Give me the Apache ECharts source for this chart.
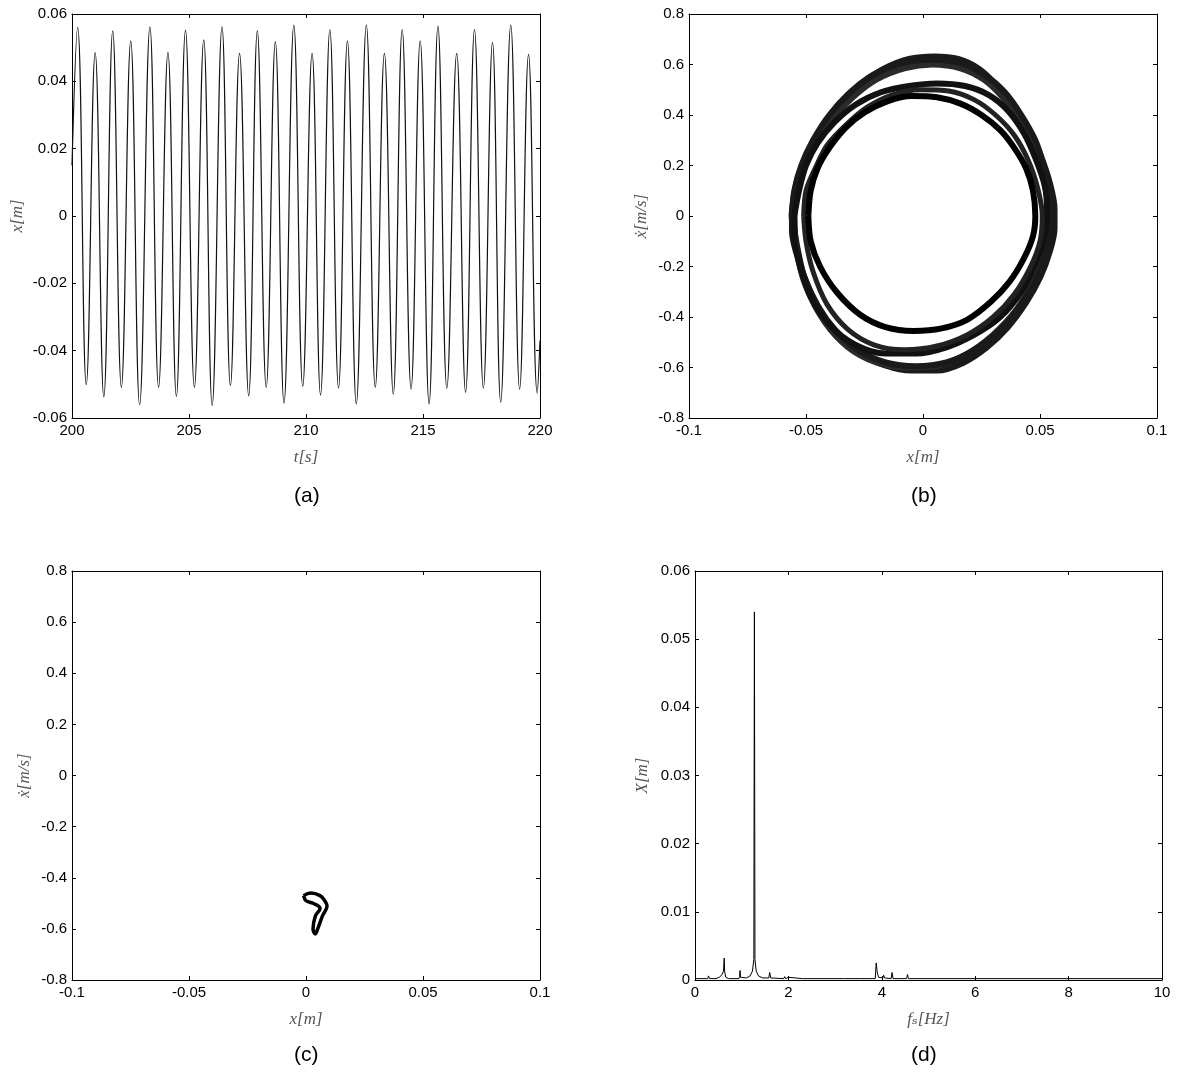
<!DOCTYPE html>
<html>
<head>
<meta charset="utf-8">
<script src="https://cdn.jsdelivr.net/npm/echarts@6/dist/echarts.min.js"></script>
<style>
html,body{margin:0;padding:0;background:#fff;}
#main{width:1177px;height:1086px;}
</style>
</head>
<body>
<div id="main"></div>
<script>
// (a) time response: peaks / troughs
var timeA = [200.0, 200.24, 200.61, 200.99, 201.36, 201.74, 202.11, 202.51, 202.89, 203.33, 203.70, 204.10, 204.46,
  204.85, 205.23, 205.63, 205.99, 206.41, 206.77, 207.16, 207.55, 207.92, 208.30, 208.69, 209.06, 209.48, 209.86,
  210.26, 210.62, 211.02, 211.39, 211.77, 212.15, 212.58, 212.96, 213.35, 213.73, 214.11, 214.49, 214.88, 215.26,
  215.64, 216.02, 216.44, 216.82, 217.20, 217.58, 217.97, 218.32, 218.75, 219.13, 219.51, 219.88, 220.0];
var dispA = [0.015, 0.0560, -0.0501, 0.0485, -0.0537, 0.0550, -0.0509, 0.0520, -0.0561, 0.0562, -0.0509, 0.0486, -0.0536,
  0.0552, -0.0509, 0.0523, -0.0563, 0.0562, -0.0504, 0.0483, -0.0534, 0.0550, -0.0509, 0.0518, -0.0556, 0.0567, -0.0506,
  0.0483, -0.0532, 0.0554, -0.0511, 0.0520, -0.0558, 0.0567, -0.0509, 0.0483, -0.0529, 0.0554, -0.0514, 0.0520, -0.0558,
  0.0564, -0.0511, 0.0483, -0.0524, 0.0554, -0.0511, 0.0516, -0.0553, 0.0567, -0.0514, 0.0480, -0.0526, -0.037];

// (b) phase portrait loops [x, xdot]
var loop1 = [[-0.056,0],[-0.055,0.08],[-0.053,0.16],[-0.049,0.25],[-0.043,0.35],[-0.036,0.44],[-0.027,0.52],[-0.017,0.58],[-0.006,0.62],[0.005,0.63],[0.015,0.62],[0.024,0.58],[0.032,0.51],[0.039,0.43],[0.045,0.34],[0.05,0.24],[0.054,0.13],[0.056,0.03],[0.056,-0.05],[0.054,-0.14],[0.05,-0.24],[0.044,-0.34],[0.036,-0.44],[0.027,-0.52],[0.017,-0.58],[0.006,-0.61],[-0.005,-0.61],[-0.016,-0.59],[-0.027,-0.54],[-0.037,-0.46],[-0.045,-0.36],[-0.051,-0.24],[-0.054,-0.12],[-0.056,0]];
var loop2 = [[-0.049,0],[-0.048,0.1],[-0.045,0.19],[-0.04,0.27],[-0.033,0.35],[-0.025,0.41],[-0.015,0.455],[-0.005,0.475],[0.006,0.47],[0.016,0.445],[0.025,0.4],[0.033,0.34],[0.039,0.27],[0.044,0.19],[0.047,0.1],[0.048,0],[0.047,-0.08],[0.043,-0.17],[0.037,-0.26],[0.029,-0.34],[0.019,-0.41],[0.008,-0.445],[-0.004,-0.455],[-0.016,-0.44],[-0.027,-0.39],[-0.037,-0.3],[-0.044,-0.2],[-0.048,-0.1],[-0.049,0]];
var loop3 = [[-0.055,0],[-0.053,0.1],[-0.05,0.2],[-0.045,0.29],[-0.038,0.37],[-0.029,0.44],[-0.018,0.49],[-0.006,0.515],[0.006,0.525],[0.018,0.515],[0.028,0.48],[0.036,0.42],[0.043,0.33],[0.048,0.23],[0.052,0.12],[0.053,0.02],[0.052,-0.08],[0.048,-0.19],[0.042,-0.3],[0.033,-0.4],[0.022,-0.47],[0.01,-0.52],[-0.003,-0.545],[-0.016,-0.545],[-0.029,-0.51],[-0.04,-0.43],[-0.048,-0.32],[-0.053,-0.18],[-0.055,-0.08],[-0.055,0]];
var loop4 = [[-0.056,0],[-0.055,0.1],[-0.052,0.2],[-0.047,0.3],[-0.04,0.4],[-0.031,0.49],[-0.021,0.56],[-0.009,0.605],[0.004,0.62],[0.016,0.605],[0.026,0.56],[0.035,0.49],[0.042,0.4],[0.048,0.3],[0.052,0.19],[0.055,0.08],[0.055,-0.03],[0.053,-0.13],[0.049,-0.24],[0.042,-0.35],[0.033,-0.45],[0.022,-0.53],[0.01,-0.58],[-0.003,-0.595],[-0.016,-0.58],[-0.028,-0.53],[-0.039,-0.44],[-0.047,-0.32],[-0.053,-0.18],[-0.056,-0.06],[-0.056,0]];
var loop5 = [[-0.051,0],[-0.05,0.1],[-0.046,0.19],[-0.041,0.28],[-0.033,0.36],[-0.024,0.43],[-0.013,0.48],[-0.001,0.5],[0.011,0.495],[0.022,0.46],[0.031,0.4],[0.039,0.32],[0.045,0.22],[0.049,0.11],[0.051,0],[0.05,-0.1],[0.046,-0.2],[0.039,-0.31],[0.03,-0.4],[0.019,-0.47],[0.006,-0.515],[-0.008,-0.53],[-0.021,-0.51],[-0.032,-0.45],[-0.041,-0.35],[-0.047,-0.22],[-0.05,-0.1],[-0.051,0]];
var loop6 = [[-0.055,0],[-0.054,0.1],[-0.051,0.19],[-0.046,0.29],[-0.039,0.38],[-0.03,0.47],[-0.02,0.54],[-0.008,0.585],[0.004,0.6],[0.016,0.585],[0.026,0.54],[0.034,0.47],[0.041,0.38],[0.047,0.28],[0.051,0.17],[0.054,0.06],[0.054,-0.04],[0.052,-0.15],[0.047,-0.26],[0.04,-0.37],[0.03,-0.47],[0.018,-0.55],[0.005,-0.595],[-0.008,-0.6],[-0.02,-0.58],[-0.032,-0.52],[-0.042,-0.42],[-0.05,-0.28],[-0.054,-0.14],[-0.055,0]];

// (c) small attractor
var loopC = [[-0.001,-0.47],[0.002,-0.46],[0.006,-0.47],[0.008,-0.49],[0.009,-0.51],[0.007,-0.55],[0.005,-0.6],[0.004,-0.62],[0.003,-0.6],[0.004,-0.55],[0.006,-0.52],[0.003,-0.5],[0,-0.49],[-0.001,-0.47]];

// (d) spectrum
var freqD = [0,0.27,0.29,0.31,0.45,0.52,0.58,0.61,0.625,0.635,0.66,0.72,0.94,0.955,0.965,0.975,1.0,1.1,1.18,1.23,1.26,1.272,1.284,1.31,1.36,1.45,1.58,1.6,1.62,1.9,1.92,1.94,1.98,2.0,2.02,2.3,2.32,2.34,3.2,3.22,3.24,3.55,3.57,3.59,3.86,3.88,3.9,3.93,4.02,4.04,4.06,4.2,4.22,4.24,4.53,4.55,4.57,10];
var ampD = [0.0002,0.0002,0.0006,0.0002,0.0002,0.0004,0.0008,0.0013,0.0032,0.0012,0.0004,0.0002,0.0002,0.0005,0.0014,0.0004,0.0002,0.0003,0.0006,0.0013,0.003,0.054,0.003,0.0013,0.0006,0.0003,0.0003,0.0011,0.0003,0.0002,0.0005,0.0002,0.0002,0.0004,0.0002,0.0002,0.0003,0.0002,0.0002,0.0003,0.0002,0.0002,0.0003,0.0002,0.0002,0.0025,0.0012,0.0004,0.0003,0.0007,0.0003,0.0002,0.0011,0.0002,0.0002,0.0008,0.0002,0.0002];

function zip(a, b) { return a.map(function (v, i) { return [v, b[i]]; }); }
function fmt(v) { return String(+v.toFixed(3)); }

var labelFont = {color:'#000', fontFamily:'Liberation Sans, Arial', fontSize:15};
var nameFont = {color:'#555', fontFamily:'Liberation Serif, DejaVu Serif', fontStyle:'italic', fontSize:17};

// box axes MATLAB style: main axis + mirrored axis without labels
function xAxes(g, min, max, step, name) {
  return [{
    type:'value', gridIndex:g, min:min, max:max, interval:step, position:'bottom',
    name:name, nameLocation:'middle', nameGap:31, nameTextStyle:nameFont,
    axisLine:{show:true, onZero:false, lineStyle:{color:'#000', width:1}},
    axisTick:{show:true, inside:true, length:4, lineStyle:{color:'#000'}},
    axisLabel:Object.assign({formatter:fmt, margin:5}, labelFont),
    splitLine:{show:false}
  }, {
    type:'value', gridIndex:g, min:min, max:max, interval:step, position:'top',
    axisLine:{show:true, onZero:false, lineStyle:{color:'#000', width:1}},
    axisTick:{show:true, inside:true, length:4, lineStyle:{color:'#000'}},
    axisLabel:{show:false}, splitLine:{show:false}
  }];
}
function yAxes(g, min, max, step, name, gap) {
  return [{
    type:'value', gridIndex:g, min:min, max:max, interval:step, position:'left',
    name:name, nameLocation:'middle', nameGap:gap, nameRotate:90, nameTextStyle:nameFont,
    axisLine:{show:true, onZero:false, lineStyle:{color:'#000', width:1}},
    axisTick:{show:true, inside:true, length:4, lineStyle:{color:'#000'}},
    axisLabel:Object.assign({formatter:fmt, margin:5}, labelFont),
    splitLine:{show:false}
  }, {
    type:'value', gridIndex:g, min:min, max:max, interval:step, position:'right',
    axisLine:{show:true, onZero:false, lineStyle:{color:'#000', width:1}},
    axisTick:{show:true, inside:true, length:4, lineStyle:{color:'#000'}},
    axisLabel:{show:false}, splitLine:{show:false}
  }];
}

var xs = [].concat(
  xAxes(0, 200, 220, 5, 't[s]'),
  xAxes(1, -0.1, 0.1, 0.05, 'x[m]'),
  xAxes(2, -0.1, 0.1, 0.05, 'x[m]'),
  xAxes(3, 0, 10, 2, 'f\u209B[Hz]')
);
var ys = [].concat(
  yAxes(0, -0.06, 0.06, 0.02, 'x[m]', 46),
  yAxes(1, -0.8, 0.8, 0.2, '\u1E8B[m/s]', 39),
  yAxes(2, -0.8, 0.8, 0.2, '\u1E8B[m/s]', 39),
  yAxes(3, 0, 0.06, 0.01, 'X[m]', 44)
);

function loopB(d, w, c) {
  return {type:'line', xAxisIndex:2, yAxisIndex:2, data:d, smooth:0.3, showSymbol:false,
    lineStyle:{color:c, width:w, join:'round'}};
}

var myChart = echarts.init(document.getElementById('main'));
myChart.setOption({
  backgroundColor:'#fff',
  animation:false,
  grid:[
    {left:72, top:14, width:468, height:404},
    {left:689, top:14, width:468, height:404},
    {left:72, top:571, width:468, height:409},
    {left:695, top:571, width:467, height:409}
  ],
  xAxis:xs,
  yAxis:ys,
  graphic:[
    {type:'text', left:294, top:486, style:{text:'(a)', font:'21px "Liberation Sans", Arial', fill:'#000'}},
    {type:'text', left:911, top:486, style:{text:'(b)', font:'21px "Liberation Sans", Arial', fill:'#000'}},
    {type:'text', left:294, top:1045, style:{text:'(c)', font:'21px "Liberation Sans", Arial', fill:'#000'}},
    {type:'text', left:911, top:1045, style:{text:'(d)', font:'21px "Liberation Sans", Arial', fill:'#000'}}
  ],
  series:[
    {type:'line', xAxisIndex:0, yAxisIndex:0, data:zip(timeA, dispA), smooth:0.45, showSymbol:false,
      lineStyle:{color:'#111', width:1.2}},
    loopB(loop1, 7, '#1a1a1a'),
    loopB(loop6, 6, '#2a2a2a'),
    loopB(loop4, 6, '#1a1a1a'),
    loopB(loop3, 6, '#111'),
    loopB(loop5, 5, '#222'),
    loopB(loop2, 6, '#000'),
    {type:'line', xAxisIndex:4, yAxisIndex:4, data:loopC, smooth:0.4, showSymbol:false, lineStyle:{color:'#000', width:3.5}},
    {type:'line', xAxisIndex:6, yAxisIndex:6, data:zip(freqD, ampD), showSymbol:false, lineStyle:{color:'#000', width:1}}
  ]
});
</script>
</body>
</html>
